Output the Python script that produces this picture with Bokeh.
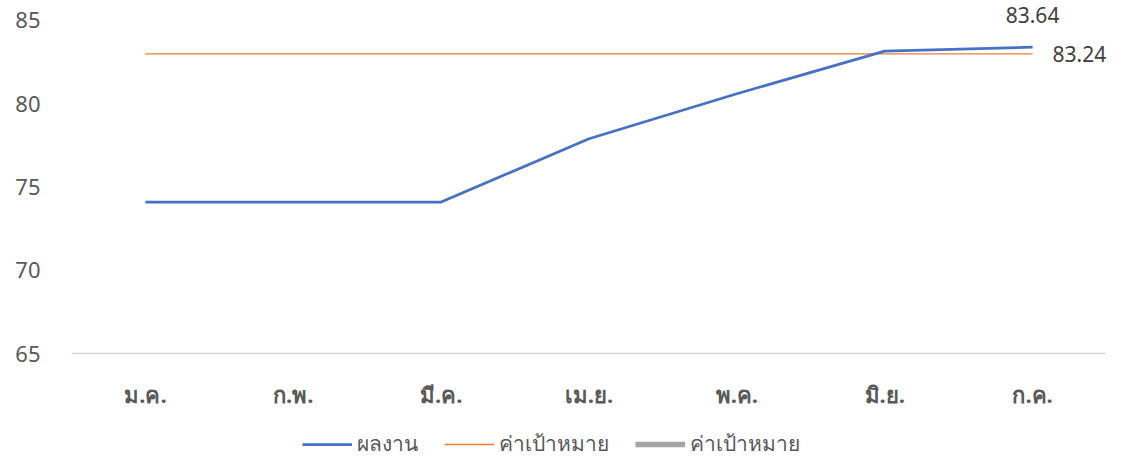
from bokeh.plotting import figure
from bokeh.models import (ColumnDataSource, FactorRange, Range1d, FixedTicker,
                          Legend, LegendItem, LabelSet, Span)
from bokeh.core.properties import value
from bokeh.embed import file_html
from bokeh.resources import INLINE

months = ["ม.ค.", "ก.พ.", "มี.ค.", "เม.ย.", "พ.ค.", "มิ.ย.", "ก.ค."]
result = [74.1, 74.1, 74.1, 77.9, 80.6, 83.16, 83.4]
target = [83.0, 83.0, 83.0, 83.0, 83.0, 83.0, 83.0]
target_hidden = [float("nan")] * 7
result_label = ["83.64"]
target_label = ["83.24"]
series_names = ["ผลงาน", "ค่าเป้าหมาย", "ค่าเป้าหมาย"]
y_ticks = [65, 70, 75, 80, 85]
y_min, y_max = 65, 85

FONT = "Noto Sans"
GRAY_TXT = "#595959"
FS = "21px"

src = ColumnDataSource(dict(x=months, result=result, target=target,
                            hidden=target_hidden, base=[y_min] * len(months)))

# frame spans the whole height; value axis 65..85 occupies the upper part
p = figure(width=1106, height=460, x_range=FactorRange(*months),
           y_range=Range1d(58.58, 86.2), output_backend="svg", toolbar_location=None,
           min_border_left=71, min_border_right=0, min_border_top=0,
           min_border_bottom=0)
p.outline_line_color = None
p.background_fill_color = "white"
p.border_fill_color = "white"
p.xgrid.visible = False
p.ygrid.visible = False
p.xaxis.visible = False

# category axis line at the value-axis minimum
p.add_layout(Span(location=y_min, dimension="width", line_color="#D9D9D9", line_width=1.5))

r_hidden = p.line("x", "hidden", source=src, line_color="#A5A5A5", line_width=5.5)
r_target = p.line("x", "target", source=src, line_color="#ED7D31", line_width=1.3)
r_result = p.line("x", "result", source=src, line_color="#4472C4", line_width=2.75)

# category labels below the axis line
p.text("x", "base", text="x", source=src, y_offset=40, text_align="center",
       text_baseline="middle", text_font=value(FONT), text_font_size=value("22px"),
       text_font_style="bold", text_color=GRAY_TXT)

# y axis
ya = p.yaxis[0]
ya.ticker = FixedTicker(ticks=y_ticks)
ya.axis_line_color = None
ya.major_tick_line_color = None
ya.minor_tick_line_color = None
ya.major_label_text_font = FONT
ya.major_label_text_font_size = "22px"
ya.major_label_text_color = GRAY_TXT
ya.major_label_standoff = 25

# data labels
lab1 = ColumnDataSource(dict(x=[months[-1]], y=[result[-1]], t=result_label))
lab2 = ColumnDataSource(dict(x=[months[-1]], y=[target[-1]], t=target_label))
p.add_layout(LabelSet(x="x", y="y", text="t", source=lab1, y_offset=32,
                      text_align="center", text_baseline="middle",
                      text_font=value(FONT), text_font_size=value(FS),
                      text_color="#404040"))
p.add_layout(LabelSet(x="x", y="y", text="t", source=lab2, x_offset=20,
                      text_align="left", text_baseline="middle",
                      text_font=value(FONT), text_font_size=value(FS),
                      text_color="#404040"))

legend = Legend(items=[LegendItem(label=series_names[0], renderers=[r_result]),
                       LegendItem(label=series_names[1], renderers=[r_target]),
                       LegendItem(label=series_names[2], renderers=[r_hidden])],
                orientation="horizontal", location=(231, 0),
                glyph_width=50, glyph_height=20, label_standoff=5, spacing=26,
                padding=0, margin=0, border_line_color=None,
                background_fill_alpha=0,
                label_text_font=FONT, label_text_font_size=FS,
                label_text_color=GRAY_TXT)
p.add_layout(legend, "center")

open("out.html", "w").write(file_html(p, INLINE))
